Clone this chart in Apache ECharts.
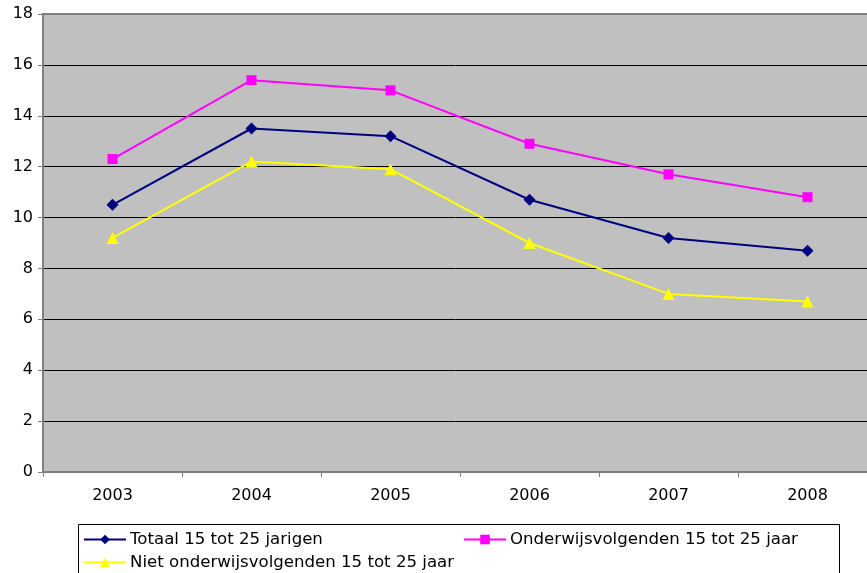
<!DOCTYPE html>
<html>
<head>
<meta charset="utf-8">
<script src="https://cdn.jsdelivr.net/npm/echarts@6/dist/echarts.min.js"></script>
<style>html,body{margin:0;padding:0;background:#fff}#c{width:867px;height:573px}</style>
</head>
<body>
<div id="c"></div>
<script>
const categories = ['2003', '2004', '2005', '2006', '2007', '2008'];
const totaal = [10.5, 13.5, 13.2, 10.7, 9.2, 8.7];
const onderwijs = [12.3, 15.4, 15.0, 12.9, 11.7, 10.8];
const nietOnderwijs = [9.2, 12.2, 11.9, 9.0, 7.0, 6.7];
const names = ['Totaal 15 tot 25 jarigen', 'Onderwijsvolgenden 15 tot 25 jaar', 'Niet onderwijsvolgenden 15 tot 25 jaar'];

const chart = echarts.init(document.getElementById('c'), null, {renderer: 'canvas'});
const font = "'DejaVu Sans', sans-serif";
const legendBase = {
  orient: 'horizontal', itemWidth: 42, itemHeight: 12, itemGap: 0, padding: 0,
  textStyle: {fontFamily: font, fontSize: 16.6, color: '#000', padding: [0,0,0,-1]},
  selectedMode: false
};
chart.setOption({
  animation: false,
  backgroundColor: '#fff',
  grid: {left: 43, top: 14, height: 458, width: 834, outerBoundsMode: 'none', containLabel: false,
         show: true, backgroundColor: '#C0C0C0', borderColor: '#808080', borderWidth: 2},
  graphic: [{type: 'rect', shape: {x: 78.5, y: 524.5, width: 761, height: 60}, style: {fill: '#fff', stroke: '#000', lineWidth: 1}, z: -1}],
  legend: [
    Object.assign({}, legendBase, {left: 83, top: 531, data: [names[0]]}),
    Object.assign({}, legendBase, {left: 463, top: 531, data: [names[1]]}),
    Object.assign({}, legendBase, {left: 83, top: 554, data: [names[2]]})
  ],
  xAxis: {
    type: 'category', data: categories, boundaryGap: true,
    axisLine: {lineStyle: {color: '#808080', width: 2}},
    axisTick: {show: true, length: 5, lineStyle: {color: '#808080', width: 1}},
    axisLabel: {fontFamily: font, fontSize: 16, color: '#000', margin: 16}
  },
  yAxis: {
    type: 'value', min: 0, max: 18, interval: 2,
    axisLine: {show: true, lineStyle: {color: '#808080', width: 2}},
    axisTick: {show: true, length: 5, lineStyle: {color: '#808080'}},
    axisLabel: {fontFamily: font, fontSize: 16, color: '#000', margin: 10},
    splitLine: {show: true, lineStyle: {color: ['#808080','#000','#000','#000','#000','#000','#000','#000','#000','#808080'], width: 1}}
  },
  series: [
    {name: names[0], type: 'line', data: totaal, symbol: 'diamond', symbolSize: 12,
     lineStyle: {color: '#000080', width: 2}, itemStyle: {color: '#000080'}, z: 3},
    {name: names[1], type: 'line', data: onderwijs, symbol: 'rect', symbolSize: 10,
     lineStyle: {color: '#FF00FF', width: 2}, itemStyle: {color: '#FF00FF'}, z: 3},
    {name: names[2], type: 'line', data: nietOnderwijs, symbol: 'triangle', symbolSize: 12,
     lineStyle: {color: '#FFFF00', width: 2}, itemStyle: {color: '#FFFF00'}, z: 3}
  ]
});
</script>
</body>
</html>
